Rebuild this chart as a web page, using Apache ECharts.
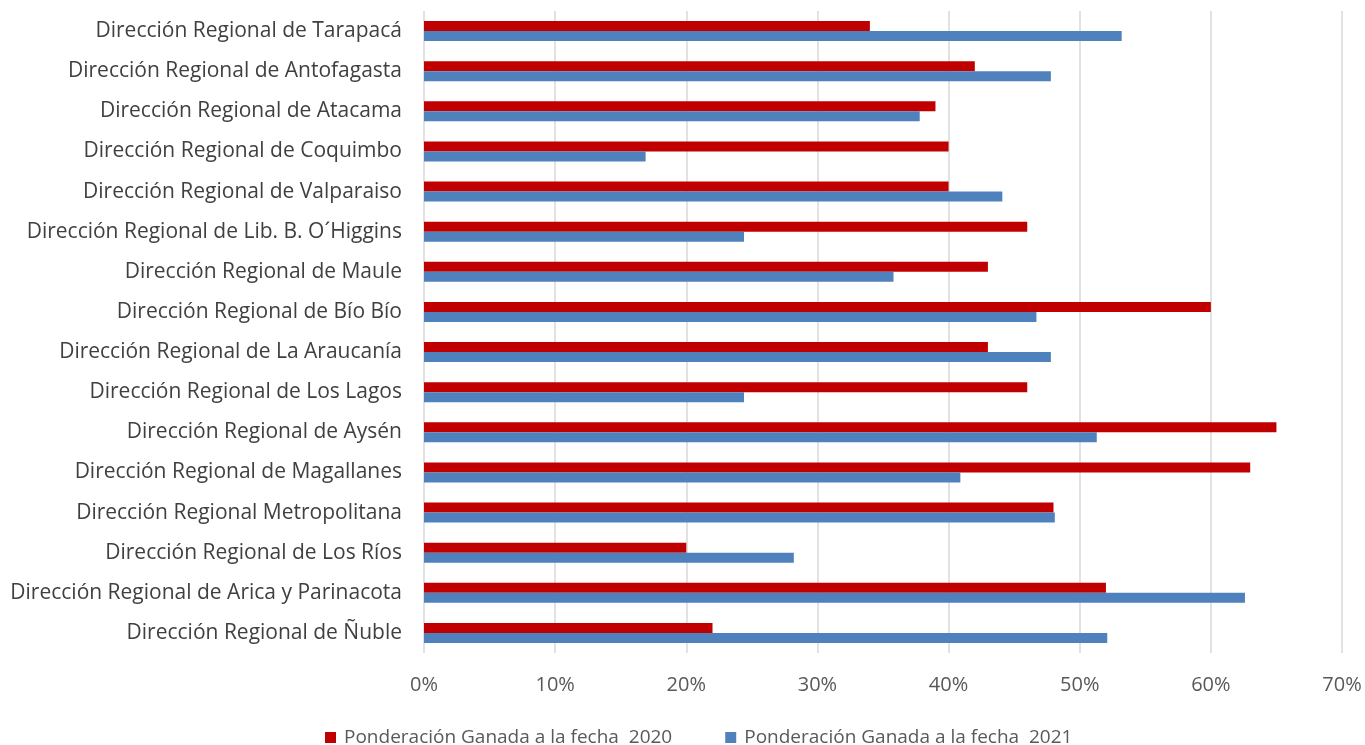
<!DOCTYPE html>
<html><head><meta charset="utf-8">
<script src="https://cdn.jsdelivr.net/npm/echarts@6/dist/echarts.min.js"></script>
<style>html,body{margin:0;padding:0;background:#fff}#c{width:1365px;height:745px}</style>
</head><body><div id="c"></div>
<script>
const categories = [
  "Dirección Regional de Tarapacá",
  "Dirección Regional de Antofagasta",
  "Dirección Regional de Atacama",
  "Dirección Regional de Coquimbo",
  "Dirección Regional de Valparaiso",
  "Dirección Regional de Lib. B. O´Higgins",
  "Dirección Regional de Maule",
  "Dirección Regional de Bío Bío",
  "Dirección Regional de La Araucanía",
  "Dirección Regional de Los Lagos",
  "Dirección Regional de Aysén",
  "Dirección Regional de Magallanes",
  "Dirección Regional Metropolitana",
  "Dirección Regional de Los Ríos",
  "Dirección Regional de Arica y Parinacota",
  "Dirección Regional de Ñuble"
];
const values2020 = [34, 42, 39, 40, 40, 46, 43, 60, 43, 46, 65, 63, 48, 20, 52, 22];
const values2021 = [53.2, 47.8, 37.8, 16.9, 44.1, 24.4, 35.8, 46.7, 47.8, 24.4, 51.3, 40.9, 48.1, 28.2, 62.6, 52.1];
const seriesNames = ["Ponderación Ganada a la fecha  2020", "Ponderación Ganada a la fecha  2021"];

const FONT = "Open Sans";
const chart = echarts.init(document.getElementById('c'));
chart.setOption({
  animation: false,
  textStyle: { fontFamily: FONT },
  grid: { left: 424, right: 23, top: 11, bottom: 92, containLabel: false },
  legend: {
    top: 723, left: 320, itemWidth: 11, itemHeight: 11, itemGap: 53,
    icon: 'rect',
    textStyle: { fontFamily: FONT, fontSize: 19, color: '#595959', padding: [0, 0, 0, 3] },
    data: seriesNames
  },
  xAxis: {
    type: 'value', min: 0, max: 70, interval: 10,
    axisLine: { show: false }, axisTick: { show: false },
    axisLabel: { formatter: '{value}%', fontSize: 20, color: '#595959', margin: 22, fontFamily: FONT },
    splitLine: { show: true, lineStyle: { color: '#d9d9d9', width: 1.5 } }
  },
  yAxis: {
    type: 'category', inverse: true, data: categories,
    axisLine: { show: false }, axisTick: { show: false },
    axisLabel: { fontSize: 21, color: '#404040', margin: 22, fontFamily: FONT }
  },
  series: [
    { name: seriesNames[0], type: 'bar', data: values2020, itemStyle: { color: '#C00000' }, barGap: '0%', barCategoryGap: '50%' },
    { name: seriesNames[1], type: 'bar', data: values2021, itemStyle: { color: '#4F81BD' }, barGap: '0%', barCategoryGap: '50%' }
  ]
});
</script></body></html>
